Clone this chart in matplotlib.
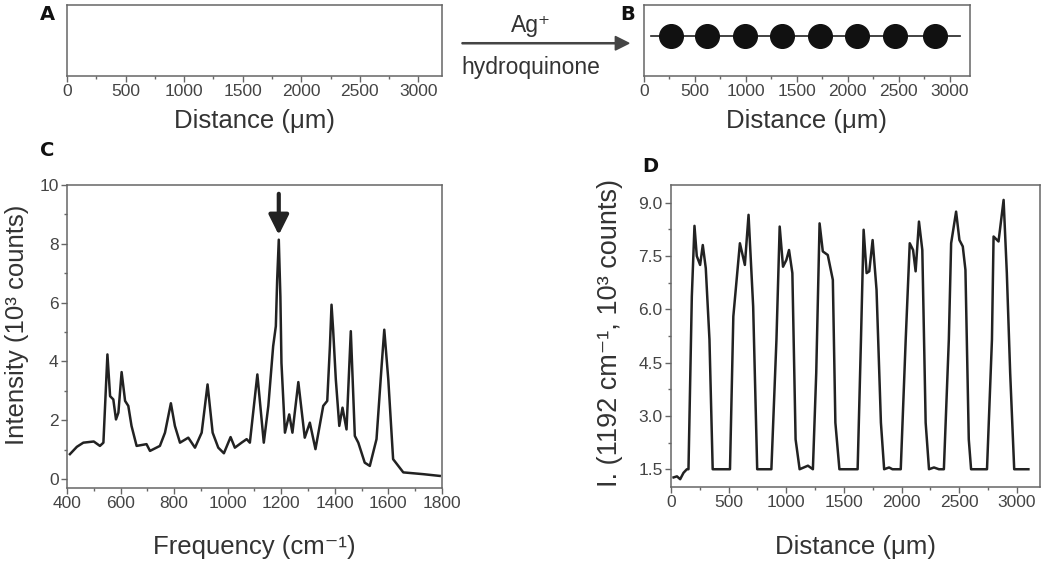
import matplotlib
matplotlib.use('Agg')
import matplotlib.pyplot as plt
from matplotlib.ticker import MultipleLocator, FormatStrFormatter
from matplotlib.patches import FancyArrow

plt.rcParams['font.family'] = ['Liberation Sans', 'DejaVu Sans']

freq = [411, 437, 461, 500, 523, 536, 551, 561, 573, 583, 592, 604, 617, 629, 641, 660,
        697, 710, 747, 766, 788, 803, 822, 853, 878, 903, 925, 944, 965, 986, 1011, 1027,
        1052, 1071, 1083, 1111, 1135, 1152, 1170, 1180, 1185, 1191, 1197, 1201, 1214, 1230,
        1242, 1264, 1288, 1307, 1328, 1357, 1372, 1382, 1388, 1394, 1404, 1417, 1429, 1444,
        1460, 1475, 1488, 1512, 1531, 1556, 1575, 1585, 1600, 1618, 1656, 1730, 1792]
intensity = [0.85, 1.10, 1.24, 1.28, 1.13, 1.24, 4.24, 2.82, 2.71, 2.03, 2.26, 3.64, 2.66,
             2.49, 1.81, 1.13, 1.19, 0.96, 1.13, 1.58, 2.58, 1.81, 1.24, 1.41, 1.07, 1.58,
             3.22, 1.58, 1.07, 0.88, 1.43, 1.07, 1.24, 1.36, 1.24, 3.56, 1.24, 2.49, 4.52,
             5.20, 6.78, 8.14, 6.20, 3.95, 1.58, 2.20, 1.58, 3.30, 1.41, 1.92, 1.02, 2.49,
             2.66, 4.52, 5.93, 5.08, 3.39, 1.81, 2.43, 1.69, 5.03, 1.47, 1.24, 0.56, 0.45,
             1.36, 3.84, 5.08, 3.39, 0.68, 0.23, 0.17, 0.11]
band_pos = 1191

# panel D: line profile of the 1192 cm-1 band
dist = [23, 52, 80, 109, 138, 152, 181, 204, 224, 253, 276, 302, 334, 362, 512, 541, 598,
        641, 673, 713, 748, 871, 915, 943, 972, 1001, 1024, 1053, 1081, 1116, 1188, 1231,
        1260, 1289, 1317, 1360, 1404, 1426, 1461, 1619, 1648, 1671, 1697, 1720, 1749, 1783,
        1821, 1849, 1892, 1921, 1993, 2036, 2071, 2100, 2122, 2151, 2180, 2209, 2238, 2281,
        2324, 2367, 2410, 2430, 2473, 2502, 2531, 2554, 2583, 2603, 2741, 2784, 2798, 2841,
        2885, 2913, 2942, 2977, 3100]
profile = [1.27, 1.30, 1.22, 1.40, 1.50, 1.50, 6.36, 8.35, 7.50, 7.25, 7.81, 7.16, 5.15, 1.50,
           1.50, 5.80, 7.86, 7.25, 8.66, 6.08, 1.50, 1.50, 5.15, 8.33, 7.20, 7.39, 7.67, 7.02,
           2.34, 1.50, 1.60, 1.50, 4.21, 8.42, 7.63, 7.53, 6.83, 2.81, 1.50, 1.50, 5.15, 8.24,
           7.02, 7.07, 7.95, 6.55, 2.81, 1.50, 1.55, 1.50, 1.50, 5.15, 7.86, 7.67, 7.07, 8.47,
           7.67, 2.81, 1.50, 1.55, 1.50, 1.50, 5.15, 7.86, 8.75, 7.95, 7.77, 7.11, 2.34, 1.50,
           1.50, 5.15, 8.05, 7.91, 9.08, 7.02, 4.21, 1.50, 1.50]

# panel B: silver dots along the channel
dot_pos = [262, 622, 988, 1354, 1724, 2090, 2466, 2852]
wire_x = [72, 3098]

spine_col = '#666666'
tick_col = '#444444'
text_col = '#333333'
line_col = '#222222'


def style(ax, fs):
    for s in ax.spines.values():
        s.set_color(spine_col)
        s.set_linewidth(1.1)
    ax.tick_params(which='both', direction='out', colors=spine_col, labelcolor=tick_col,
                   labelsize=fs, width=1.0, pad=2)
    ax.tick_params(which='major', length=4)
    ax.tick_params(which='minor', length=2.5)


fig = plt.figure(figsize=(10.5, 5.69), dpi=100)

# A
axA = fig.add_axes([0.0638, 0.8664, 0.357, 0.1248])
axA.set_xlim(0, 3200)
axA.set_ylim(0, 1)
axA.set_yticks([])
axA.xaxis.set_major_locator(MultipleLocator(500))
axA.xaxis.set_minor_locator(MultipleLocator(250))
style(axA, 12.5)
axA.set_xlabel('Distance (\u03bcm)', fontsize=18.5, color=text_col)
axA.xaxis.set_label_coords(0.5, -0.47)

# B
axB = fig.add_axes([0.6133, 0.8664, 0.3105, 0.1248])
axB.set_xlim(0, 3200)
axB.set_ylim(0, 1)
axB.set_yticks([])
axB.xaxis.set_major_locator(MultipleLocator(500))
axB.xaxis.set_minor_locator(MultipleLocator(250))
style(axB, 12.5)
axB.plot(wire_x, [0.57, 0.57], color=line_col, lw=1.2)
axB.scatter(dot_pos, [0.57] * len(dot_pos), s=290, color='#111111', zorder=3)
axB.set_xlabel('Distance (\u03bcm)', fontsize=18.5, color=text_col)
axB.xaxis.set_label_coords(0.5, -0.47)

# reaction arrow
fig.patches.append(FancyArrow(0.44, 0.924, 0.146, 0, width=0.002, head_width=0.024,
                              head_length=0.013, color='#444444',
                              transform=fig.transFigure))
fig.text(0.506, 0.956, 'Ag\u207a', fontsize=16.5, color=text_col, ha='center', va='center')
fig.text(0.506, 0.882, 'hydroquinone', fontsize=16.5, color=text_col, ha='center',
         va='center')

# C
axC = fig.add_axes([0.0638, 0.1424, 0.357, 0.5325])
axC.plot(freq, intensity, color=line_col, lw=1.8)
axC.set_xlim(400, 1800)
axC.set_ylim(-0.3, 10)
axC.xaxis.set_major_locator(MultipleLocator(200))
axC.xaxis.set_minor_locator(MultipleLocator(100))
axC.yaxis.set_major_locator(MultipleLocator(2))
axC.yaxis.set_minor_locator(MultipleLocator(1))
style(axC, 12.5)
axC.set_xlabel('Frequency (cm\u207b\u00b9)', fontsize=18.5, color=text_col)
axC.xaxis.set_label_coords(0.5, -0.155)
axC.set_ylabel('Intensity (10\u00b3 counts)', fontsize=18.5, color=text_col)
axC.yaxis.set_label_coords(-0.101, 0.54)
axC.annotate('', xy=(band_pos, 8.3), xytext=(band_pos, 9.7),
             arrowprops=dict(arrowstyle='-|>,head_width=0.6,head_length=1.2',
                             color='#222222', lw=3, shrinkA=0, shrinkB=0))

# D
axD = fig.add_axes([0.639, 0.1441, 0.3514, 0.5308])
axD.plot(dist, profile, color=line_col, lw=1.8)
axD.set_xlim(0, 3200)
axD.set_ylim(1.0, 9.5)
axD.xaxis.set_major_locator(MultipleLocator(500))
axD.xaxis.set_minor_locator(MultipleLocator(250))
axD.yaxis.set_major_locator(MultipleLocator(1.5))
axD.yaxis.set_minor_locator(MultipleLocator(0.75))
axD.yaxis.set_major_formatter(FormatStrFormatter('%.1f'))
style(axD, 12.5)
axD.set_xlabel('Distance (\u03bcm)', fontsize=18.5, color=text_col)
axD.xaxis.set_label_coords(0.5, -0.16)
axD.set_ylabel('I. (1192 cm\u207b\u00b9, 10\u00b3 counts)', fontsize=19.5, color=text_col)
axD.yaxis.set_label_coords(-0.130, 0.51)

# panel letters
for lbl, x, y in [('A', 47, 15), ('B', 628, 15), ('C', 47, 150), ('D', 650, 167)]:
    fig.text(x / 1050, 1 - y / 569, lbl, fontsize=14, fontweight='heavy', color='#111111',
             family='DejaVu Sans', ha='center', va='center')

fig.savefig('out.png', dpi=100)
